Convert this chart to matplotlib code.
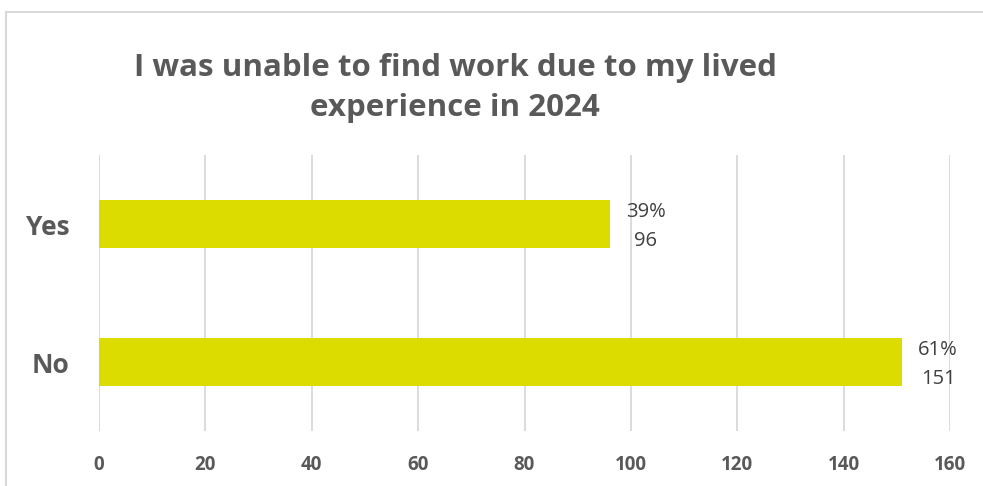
import matplotlib

matplotlib.use("Agg")

import matplotlib.pyplot as plt
from matplotlib.lines import Line2D

categories = ["No", "Yes"]
counts = [151, 96]
shares = ["61%", "39%"]
x_ticks = [0, 20, 40, 60, 80, 100, 120, 140, 160]

TEXT = "#595959"
LABEL = "#404040"
GRID = "#D9D9D9"
BAR = "#DDDC00"

plt.rcParams["font.family"] = ["Open Sans", "DejaVu Sans"]

fig = plt.figure(figsize=(9.83, 4.86), dpi=100)
ax = fig.add_axes([99 / 983, 1 - 431 / 486, 851 / 983, 276 / 486])

ax.barh(range(len(categories)), counts, height=0.355, color=BAR, zorder=2)
ax.set_xlim(0, 160)
ax.set_ylim(-0.5, len(categories) - 0.5)

ax.set_xticks(x_ticks)
ax.set_xticklabels([str(t) for t in x_ticks])
ax.set_yticks(range(len(categories)))
ax.set_yticklabels(categories)
ax.tick_params(axis="x", length=0, pad=17, labelsize=13.5, labelcolor=TEXT)
ax.tick_params(axis="y", length=0, pad=21, labelsize=19, labelcolor=TEXT)
for lab in ax.get_xticklabels() + ax.get_yticklabels():
    lab.set_fontweight("bold")

ax.grid(axis="x", color=GRID, linewidth=1.3, zorder=0)
for side in ("top", "right", "bottom", "left"):
    ax.spines[side].set_visible(False)
ax.axvline(0, color=GRID, linewidth=1.3, zorder=1)

# value labels: share on top, count below
for i, (n, pct) in enumerate(zip(counts, shares)):
    ax.annotate(f"{pct}\n{n}", xy=(n, i), xytext=(26, -2),
                textcoords="offset points", ha="center", va="center",
                fontsize=14.5, color=LABEL, linespacing=1.6)

fig.text(455 / 983, 1 - 88 / 486,
         "I was unable to find work due to my lived\nexperience in 2024",
         ha="center", va="center", fontsize=22.5, fontweight="bold",
         color=TEXT, linespacing=1.45)

# chart area outline: only the top and left edges show
fig.add_artist(Line2D([6 / 983, 1], [1 - 12 / 486] * 2, color=GRID,
                      linewidth=1.5, transform=fig.transFigure))
fig.add_artist(Line2D([6 / 983] * 2, [0, 1 - 12 / 486], color=GRID,
                      linewidth=1.5, transform=fig.transFigure))

fig.savefig("out.png", dpi=100)
plt.close(fig)
